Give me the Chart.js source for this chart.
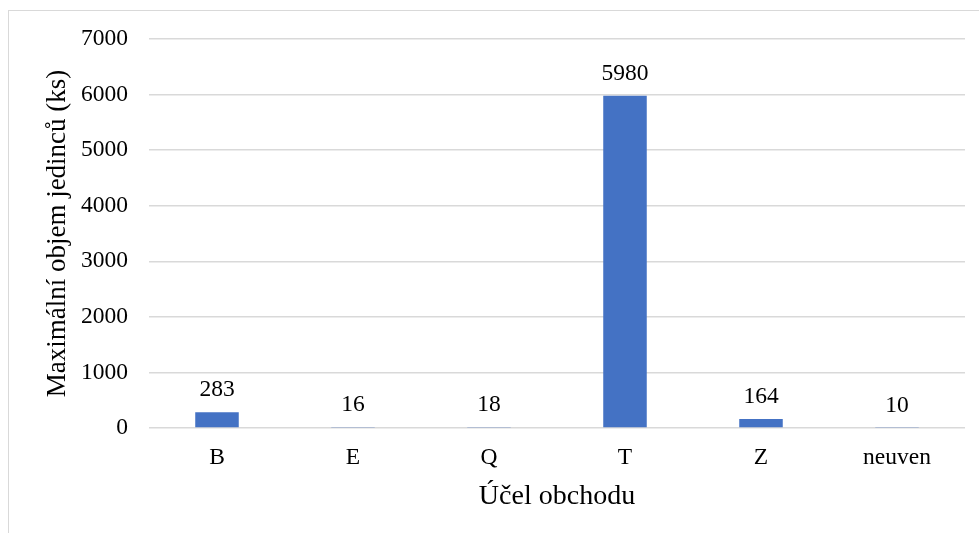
<!DOCTYPE html>
<html>
<head>
<meta charset="utf-8">
<script src="https://cdn.jsdelivr.net/npm/chart.js@4"></script>
<style>
  html, body { margin: 0; padding: 0; background: #fff; overflow: hidden; }
  #frame { position: absolute; left: 8px; top: 10px; width: 1000px; height: 600px; border: 1px solid #d9d9d9; }
  #wrap { position: absolute; left: 0; top: 0; width: 979px; height: 533px; }
</style>
</head>
<body>
<div id="frame"></div>
<div id="wrap"><canvas id="chart"></canvas></div>
<script>
const categories = ["B", "E", "Q", "T", "Z", "neuven"];
const values = [283, 16, 18, 5980, 164, 10];
const yTicks = [0, 1000, 2000, 3000, 4000, 5000, 6000, 7000];

const fontFamily = "'Liberation Serif', 'Times New Roman', serif";

// draws the value above each bar
const barLabels = {
  id: "barLabels",
  afterDatasetsDraw(chart) {
    const ctx = chart.ctx;
    const meta = chart.getDatasetMeta(0);
    ctx.save();
    ctx.font = "23.5px " + fontFamily;
    ctx.fillStyle = "#000";
    ctx.textAlign = "center";
    ctx.textBaseline = "middle";
    meta.data.forEach((bar, i) => {
      ctx.fillText(String(values[i]), bar.x, bar.y - 22);
    });
    ctx.restore();
  }
};

new Chart(document.getElementById("chart"), {
  type: "bar",
  data: {
    labels: categories,
    datasets: [{
      data: values,
      backgroundColor: "#4472C4",
      borderWidth: 0,
      barPercentage: 0.32,
      categoryPercentage: 1
    }]
  },
  options: {
    responsive: true,
    maintainAspectRatio: false,
    animation: false,
    layout: { padding: { left: 38, right: 14, top: 39, bottom: 20 } },
    plugins: {
      legend: { display: false },
      tooltip: { enabled: false }
    },
    scales: {
      x: {
        grid: { display: false },
        border: { display: false },
        ticks: { color: "#000", padding: 8, font: { family: fontFamily, size: 23.5 } },
        title: {
          display: true,
          text: "Účel obchodu",
          color: "#000",
          padding: { top: 0, bottom: 0 },
          font: { family: fontFamily, size: 28 }
        },
        afterFit: scale => { scale.height = 85; }
      },
      y: {
        min: 0,
        max: 7000,
        afterBuildTicks: scale => { scale.ticks = yTicks.map(v => ({ value: v })); },
        grid: { color: "#d9d9d9", lineWidth: 1.5, drawTicks: false },
        border: { display: false },
        ticks: {
          color: "#000",
          padding: 21,
          font: { family: fontFamily, size: 23.5 },
          callback: v => String(v)
        },
        title: {
          display: true,
          text: "Maximální objem jedinců (ks)",
          color: "#000",
          padding: 4,
          font: { family: fontFamily, size: 27 }
        },
        afterFit: scale => { scale.width = 111; }
      }
    }
  },
  plugins: [barLabels]
});
</script>
</body>
</html>
